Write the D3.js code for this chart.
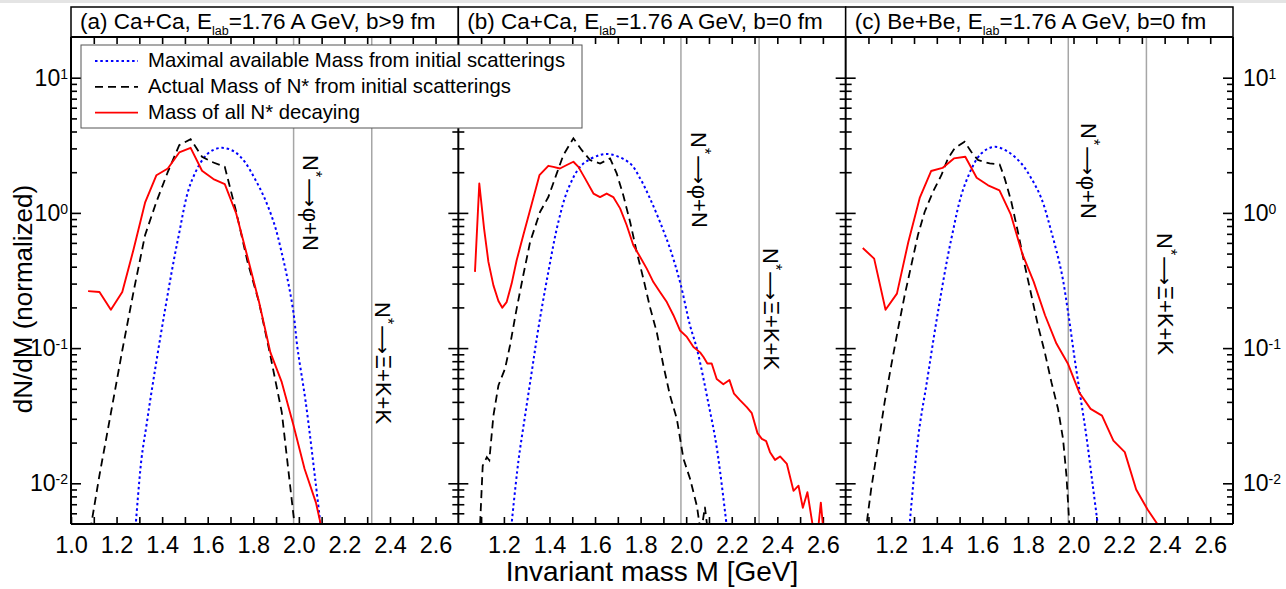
<!DOCTYPE html>
<html>
<head>
<meta charset="utf-8">
<script src="https://cdn.jsdelivr.net/npm/d3@7/dist/d3.min.js"></script>
<style>
  body { margin: 0; background: #fff; }
  svg { display: block; }
  text { font-family: "Liberation Sans", Arial, Helvetica, sans-serif; fill: #000; }
</style>
</head>
<body>
<div id="chart"></div>
<script>
// ---- data: [mass (GeV), dN/dM] ----
const maxMassA = [[1.280, 0.0040], [1.309, 0.015], [1.331, 0.0267], [1.353, 0.047], [1.411, 0.185], [1.470, 0.646],
  [1.528, 1.70], [1.601, 2.75], [1.660, 3.03], [1.718, 2.83], [1.762, 2.39], [1.806, 1.80], [1.850, 1.28],
  [1.894, 0.81], [1.924, 0.514], [1.953, 0.308], [1.976, 0.185], [1.994, 0.10], [2.030, 0.040], [2.074, 0.010], [2.100, 0.0042]];
const actualMassA = [[1.075, 0.0036], [1.125, 0.0115], [1.175, 0.033], [1.225, 0.096], [1.275, 0.264], [1.325, 0.684],
  [1.375, 1.21], [1.425, 2.01], [1.475, 3.17], [1.525, 3.51], [1.575, 2.60], [1.625, 2.36], [1.675, 2.19],
  [1.725, 1.02], [1.775, 0.434], [1.825, 0.219], [1.875, 0.088], [1.925, 0.0336], [1.975, 0.0061], [2.025, 0.0012]];
const decayMassA = [[1.075, 0.264], [1.125, 0.26], [1.175, 0.192], [1.225, 0.26], [1.275, 0.54], [1.325, 1.19],
  [1.375, 1.90], [1.425, 2.13], [1.475, 2.80], [1.525, 3.03], [1.575, 2.05], [1.625, 1.78], [1.675, 1.63],
  [1.725, 0.99], [1.775, 0.47], [1.825, 0.22], [1.875, 0.093], [1.925, 0.056], [1.975, 0.0275], [2.025, 0.0128],
  [2.075, 0.0072], [2.125, 0.003]];

const maxMassB = [[1.228, 0.0040], [1.263, 0.0143], [1.293, 0.0317], [1.322, 0.0664], [1.351, 0.139], [1.395, 0.366],
  [1.439, 0.857], [1.483, 1.52], [1.542, 2.26], [1.622, 2.68], [1.673, 2.70], [1.754, 2.32], [1.798, 1.80],
  [1.841, 1.28], [1.885, 0.857], [1.929, 0.545], [1.973, 0.308], [2.017, 0.147], [2.047, 0.099], [2.098, 0.0387],
  [2.134, 0.0185], [2.182, 0.0042]];
const actualMassB = [[1.093, 0.004], [1.107, 0.0135], [1.125, 0.0156], [1.136, 0.0148], [1.154, 0.0317], [1.176, 0.053],
  [1.205, 0.0704], [1.227, 0.105], [1.256, 0.196], [1.285, 0.346], [1.315, 0.61], [1.359, 1.02], [1.395, 1.31],
  [1.432, 1.96], [1.461, 2.68], [1.505, 3.56], [1.542, 2.91], [1.578, 2.46], [1.622, 2.32], [1.666, 2.53],
  [1.695, 1.96], [1.724, 1.35], [1.754, 0.857], [1.783, 0.514], [1.812, 0.327], [1.841, 0.201], [1.871, 0.131],
  [1.900, 0.0744], [1.929, 0.0446], [1.959, 0.030], [1.988, 0.0152], [2.017, 0.0108], [2.047, 0.0068],
  [2.065, 0.0042], [2.082, 0.0067], [2.098, 0.004]];
const decayMassB = [[1.073, 0.366], [1.092, 1.65], [1.113, 0.766], [1.132, 0.434], [1.154, 0.291], [1.176, 0.223],
  [1.193, 0.199], [1.212, 0.219], [1.234, 0.30], [1.256, 0.446], [1.285, 0.684], [1.315, 1.05], [1.356, 1.90],
  [1.395, 2.23], [1.417, 2.19], [1.446, 2.13], [1.476, 2.26], [1.505, 2.39], [1.527, 2.19], [1.556, 1.80],
  [1.593, 1.39], [1.622, 1.31], [1.651, 1.39], [1.680, 1.31], [1.710, 1.08], [1.739, 0.81], [1.768, 0.576],
  [1.798, 0.472], [1.827, 0.387], [1.856, 0.308], [1.885, 0.26], [1.915, 0.219], [1.944, 0.175], [1.973, 0.135],
  [2.003, 0.121], [2.032, 0.102], [2.061, 0.093], [2.076, 0.086], [2.093, 0.077], [2.112, 0.077], [2.134, 0.059],
  [2.163, 0.054], [2.190, 0.058], [2.210, 0.046], [2.237, 0.041], [2.266, 0.0366], [2.288, 0.033], [2.313, 0.0235],
  [2.332, 0.0213], [2.351, 0.0205], [2.368, 0.017], [2.390, 0.0149], [2.412, 0.0158], [2.442, 0.0139],
  [2.471, 0.0088], [2.493, 0.0096], [2.512, 0.0066], [2.532, 0.0086], [2.556, 0.0048], [2.572, 0.0035],
  [2.591, 0.0072], [2.608, 0.0035]];

const maxMassC = [[1.276, 0.0040], [1.303, 0.0128], [1.325, 0.0267], [1.354, 0.053], [1.405, 0.185], [1.464, 0.646],
  [1.522, 1.60], [1.595, 2.75], [1.654, 3.08], [1.713, 2.83], [1.771, 2.32], [1.815, 1.80], [1.859, 1.28],
  [1.903, 0.723], [1.947, 0.366], [1.976, 0.185], [2.005, 0.0835], [2.034, 0.0398], [2.056, 0.0226],
  [2.085, 0.0095], [2.112, 0.0042]];
const actualMassC = [[1.086, 0.0042], [1.112, 0.0091], [1.142, 0.019], [1.171, 0.0398], [1.200, 0.0744], [1.230, 0.139],
  [1.259, 0.246], [1.288, 0.41], [1.317, 0.684], [1.347, 1.02], [1.383, 1.43], [1.420, 1.90], [1.449, 2.53],
  [1.478, 3.00], [1.522, 3.36], [1.551, 2.83], [1.581, 2.46], [1.632, 2.32], [1.676, 2.28], [1.698, 1.80],
  [1.727, 1.21], [1.756, 0.723], [1.786, 0.41], [1.815, 0.246], [1.844, 0.147], [1.874, 0.093], [1.903, 0.056],
  [1.932, 0.0356], [1.954, 0.0213], [1.969, 0.0114], [1.985, 0.004]];
const decayMassC = [[1.075, 0.55], [1.125, 0.459], [1.175, 0.192], [1.225, 0.253], [1.275, 0.61], [1.325, 1.29],
  [1.375, 2.04], [1.425, 2.15], [1.475, 2.53], [1.525, 2.60], [1.575, 1.82], [1.625, 1.60], [1.675, 1.47],
  [1.725, 0.97], [1.775, 0.50], [1.825, 0.31], [1.875, 0.175], [1.925, 0.108], [1.975, 0.077], [2.025, 0.047],
  [2.075, 0.0355], [2.125, 0.0317], [2.175, 0.0207], [2.225, 0.017], [2.275, 0.009], [2.325, 0.0064],
  [2.375, 0.0048], [2.425, 0.0035]];

const panelTitles = [
  ["(a) Ca+Ca, E", "lab", "=1.76 A GeV, b>9 fm"],
  ["(b) Ca+Ca, E", "lab", "=1.76 A GeV, b=0 fm"],
  ["(c) Be+Be, E", "lab", "=1.76 A GeV, b=0 fm"]
];
const seriesNames = [
  "Maximal available Mass from initial scatterings",
  "Actual Mass of N* from initial scatterings",
  "Mass of all N* decaying"
];
const thresholds = [1.977, 2.32];           // N*->phi+N , N*->Xi+K+K
const thresholdProducts = ["\u03c6+N", "\u039e+K+K"];
const xTicks = [1.1, 1.2, 1.3, 1.4, 1.5, 1.6, 1.7, 1.8, 1.9, 2.0, 2.1, 2.2, 2.3, 2.4, 2.5, 2.6];
const xLabelsFirst = [1.0, 1.2, 1.4, 1.6, 1.8, 2.0, 2.2, 2.4, 2.6];
const xLabelsOther = [1.2, 1.4, 1.6, 1.8, 2.0, 2.2, 2.4, 2.6];
const yMajor = [0.01, 0.1, 1, 10];
const yExp = [-2, -1, 0, 1];
const yMinor = [0.006, 0.007, 0.008, 0.009, 0.02, 0.03, 0.04, 0.05, 0.06, 0.07, 0.08, 0.09,
  0.2, 0.3, 0.4, 0.5, 0.6, 0.7, 0.8, 0.9, 2, 3, 4, 5, 6, 7, 8, 9];

// ---- layout ----
const W = 1286, H = 589;
const plotL = 71, plotR = 1233, plotT = 37, plotB = 524;
const pw = (plotR - plotL) / 3;
const colors = { max: "#0000ff", actual: "#000000", decay: "#ff0000" };
// rotated label positions: [offset from threshold line, top y]
const annotPos = [
  [[9, 155], [3.5, 302]],
  [[10.5, 132], [4, 248]],
  [[12.5, 123], [11, 233]]
];

const panels = [
  { max: maxMassA, actual: actualMassA, decay: decayMassA },
  { max: maxMassB, actual: actualMassB, decay: decayMassB },
  { max: maxMassC, actual: actualMassC, decay: decayMassC }
];

const svg = d3.select("#chart").append("svg")
  .attr("width", W).attr("height", H);

svg.append("rect").attr("width", W).attr("height", H).attr("fill", "#fff");
svg.append("rect").attr("width", W).attr("height", 3).attr("fill", "#e4e4e4");

const y = d3.scaleLog().domain([0.005, 20]).range([plotB, plotT]);
const fmt = d3.format(".1f");

function styleAxis(a) {
  a.select(".domain").remove();
  a.selectAll(".tick line").attr("stroke", "#000").attr("stroke-width", 1.6);
  a.attr("font-family", null).attr("font-size", null);
}

function powerLabels(a) {
  a.selectAll(".tick text").each(function (d) {
    const t = d3.select(this).style("font-size", "23px");
    t.text("10");
    t.append("tspan").attr("dy", "-0.5em").style("font-size", "14px").text(yExp[yMajor.indexOf(d)]);
  });
}

panels.forEach((p, i) => {
  const x0 = plotL + i * pw;
  const x = d3.scaleLinear().domain([1.0, 2.7]).range([x0, x0 + pw]);
  const g = svg.append("g");

  g.append("clipPath").attr("id", "clip" + i)
    .append("rect").attr("x", x0).attr("y", plotT).attr("width", pw).attr("height", plotB - plotT);

  // threshold lines
  g.selectAll("line.thr").data(thresholds).enter().append("line")
    .attr("x1", d => x(d)).attr("x2", d => x(d))
    .attr("y1", plotT).attr("y2", plotB)
    .attr("stroke", "#a6a6a6").attr("stroke-width", 1.5);

  // x axes (ticks inward)
  const labels = i === 0 ? xLabelsFirst : xLabelsOther;
  const xb = g.append("g").attr("transform", `translate(0,${plotB})`)
    .call(d3.axisBottom(x).tickValues(i === 0 ? [1.0].concat(xTicks) : xTicks)
      .tickSize(-7).tickPadding(12)
      .tickFormat(d => labels.some(v => Math.abs(v - d) < 1e-6) ? fmt(d) : ""));
  const xt = g.append("g").attr("transform", `translate(0,${plotT})`)
    .call(d3.axisTop(x).tickValues(xTicks).tickSize(-7).tickFormat(""));

  // y axes, major and minor, on both sides of each panel
  const yl = g.append("g").attr("transform", `translate(${x0},0)`)
    .call(d3.axisLeft(y).tickValues(yMajor).tickSize(-10).tickPadding(3)
      .tickFormat(() => i === 0 ? "10" : ""));
  const ylm = g.append("g").attr("transform", `translate(${x0},0)`)
    .call(d3.axisLeft(y).tickValues(yMinor).tickSize(-6).tickFormat(""));
  const yr = g.append("g").attr("transform", `translate(${x0 + pw},0)`)
    .call(d3.axisRight(y).tickValues(yMajor).tickSize(-10).tickPadding(10)
      .tickFormat(() => i === 2 ? "10" : ""));
  const yrm = g.append("g").attr("transform", `translate(${x0 + pw},0)`)
    .call(d3.axisRight(y).tickValues(yMinor).tickSize(-6).tickFormat(""));

  [xb, xt, yl, ylm, yr, yrm].forEach(styleAxis);
  xb.selectAll(".tick text").style("font-size", "23.5px");
  if (i === 0) powerLabels(yl);
  if (i === 2) powerLabels(yr);

  // curves
  const line = d3.line().x(d => x(d[0])).y(d => y(d[1]));
  const smooth = d3.line().x(d => x(d[0])).y(d => y(d[1])).curve(d3.curveCatmullRom.alpha(0.5));
  const cg = g.append("g").attr("clip-path", `url(#clip${i})`);
  cg.append("path").datum(p.max).attr("d", smooth)
    .attr("fill", "none").attr("stroke", colors.max).attr("stroke-width", 2)
    .attr("stroke-dasharray", "2.5,2.8");
  cg.append("path").datum(p.actual).attr("d", line)
    .attr("fill", "none").attr("stroke", colors.actual).attr("stroke-width", 1.8)
    .attr("stroke-dasharray", "8,5");
  cg.append("path").datum(p.decay).attr("d", line)
    .attr("fill", "none").attr("stroke", colors.decay).attr("stroke-width", 1.9)
    .attr("stroke-linejoin", "round");

  // rotated threshold labels (read top to bottom)
  thresholds.forEach((m, k) => {
    const [dx, ty] = annotPos[i][k];
    const t = g.append("text")
      .attr("transform", `translate(${x(m) + dx},${ty}) rotate(90)`)
      .style("font-size", "22px");
    t.append("tspan").text("N");
    t.append("tspan").attr("dy", "-0.45em").style("font-size", "16px").text("*");
    t.append("tspan").attr("dy", "0.33em").attr("dx", 1)
      .style("font-family", "'DejaVu Sans', sans-serif").style("font-size", "20px").text("\u27f6");
    t.append("tspan").attr("dx", 1).text(thresholdProducts[k]);
  });

  // title box
  g.append("rect").attr("x", x0).attr("y", 7).attr("width", pw).attr("height", plotT - 7)
    .attr("fill", "#fff").attr("stroke", "#000").attr("stroke-width", 1.5);
  const tt = g.append("text").attr("x", x0 + 9).attr("y", 29).style("font-size", "22.5px");
  tt.append("tspan").text(panelTitles[i][0]);
  tt.append("tspan").attr("dy", 6).style("font-size", "12.5px").text(panelTitles[i][1]);
  tt.append("tspan").attr("dy", -6).text(panelTitles[i][2]);
});

// frame
const frame = svg.append("g").attr("stroke", "#000").attr("stroke-width", 2);
frame.append("line").attr("x1", plotL).attr("x2", plotR).attr("y1", plotT).attr("y2", plotT);
frame.append("line").attr("x1", plotL).attr("x2", plotR).attr("y1", plotB).attr("y2", plotB);
[0, 1, 2, 3].forEach(k => {
  frame.append("line").attr("x1", plotL + k * pw).attr("x2", plotL + k * pw)
    .attr("y1", plotT).attr("y2", plotB);
});

// axis titles
svg.append("text")
  .attr("transform", "translate(32,299) rotate(-90)")
  .attr("text-anchor", "middle")
  .style("font-size", "26px")
  .text("dN/dM (normalized)");
svg.append("text")
  .attr("x", (plotL + plotR) / 2).attr("y", 581)
  .attr("text-anchor", "middle")
  .style("font-size", "28px")
  .text("Invariant mass M [GeV]");

// legend
const lg = svg.append("g");
lg.append("rect").attr("x", 81).attr("y", 45).attr("width", 501).attr("height", 83)
  .attr("fill", "#fff").attr("stroke", "#555").attr("stroke-width", 1);
const legendStyle = [
  { c: colors.max, dash: "2.5,2.8", w: 2 },
  { c: colors.actual, dash: "8,5", w: 1.8 },
  { c: colors.decay, dash: null, w: 1.9 }
];
seriesNames.forEach((name, k) => {
  const by = 67 + k * 25.8;
  lg.append("line").attr("x1", 95).attr("x2", 138).attr("y1", by - 6).attr("y2", by - 6)
    .attr("stroke", legendStyle[k].c).attr("stroke-width", legendStyle[k].w)
    .attr("stroke-dasharray", legendStyle[k].dash);
  lg.append("text").attr("x", 148).attr("y", by).style("font-size", "20.3px").text(name);
});
</script>
</body>
</html>
